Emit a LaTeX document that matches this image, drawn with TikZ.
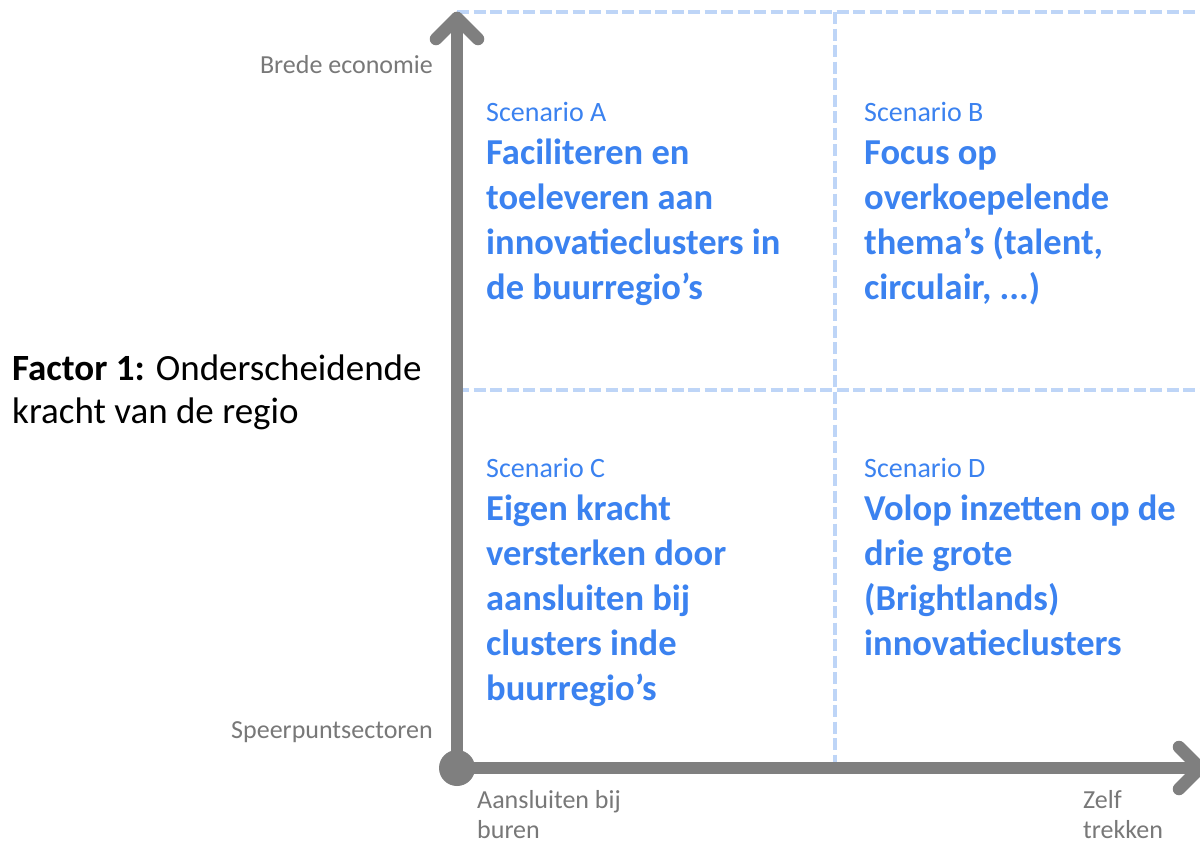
\documentclass[tikz,border=0pt]{standalone}
\usepackage{fontspec}
\setmainfont{Carlito}
\definecolor{axisgray}{RGB}{127,127,127}
\definecolor{labelgray}{RGB}{120,120,120}
\definecolor{scenblue}{RGB}{59,130,240}
\definecolor{dashblue}{RGB}{190,213,247}
\begin{document}
\begin{tikzpicture}[x=1pt,y=-1pt,
  axisline/.style={draw=axisgray,line width=12.5pt,line cap=round,line join=round},
  gridline/.style={draw=dashblue,line width=4pt,dash pattern=on 12pt off 4.5pt},
  axislabel/.style={inner sep=0pt,text=labelgray,align=left,font=\fontsize{26}{30}\selectfont},
  scenlabel/.style={inner sep=0pt,text=scenblue,anchor=base west,font=\fontsize{28}{34}\selectfont},
  scentitle/.style={inner sep=0pt,text=scenblue,anchor=base west,align=left,font=\fontsize{36.5}{45}\selectfont\bfseries},
  factorlabel/.style={inner sep=0pt,text=black,anchor=base west,align=left,font=\fontsize{37}{43}\selectfont}
]
\useasboundingbox[fill=white] (0,0) rectangle (1200,844);

% dashed grid
\coordinate (gtl) at (457,12);
\coordinate (gtr) at (1200,12);
\coordinate (gmt) at (835,12);
\coordinate (gmb) at (835,762);
\coordinate (gml) at (457,390);
\coordinate (gmr) at (1200,390);
\draw[gridline] (gtl) -- (gtr);
\draw[gridline] (gmt) -- (gmb);
\draw[gridline] (gml) -- (gmr);

% axes
\coordinate (origin) at (457,768);
\coordinate (ytip) at (457,18);
\coordinate (yl) at (436,39);
\coordinate (yr) at (478,39);
\coordinate (xtip) at (1200,768);
\coordinate (xu) at (1179,747);
\coordinate (xd) at (1179,789);
\draw[axisline] (origin) -- (ytip);
\draw[axisline] (yl) -- (ytip) -- (yr);
\draw[axisline] (origin) -- (xtip);
\draw[axisline] (xu) -- (xtip) -- (xd);
\fill[axisgray] (origin) circle (18pt);

% axis labels (multi-line nodes: base = last line's baseline)
\node[axislabel,anchor=base east] (brede) at (433,73) {Brede economie};
\node[axislabel,anchor=base east] (speer) at (433,738) {Speerpuntsectoren};
\node[axislabel,anchor=base west] (aansl) at (477,838) {Aansluiten bij\\buren};
\node[axislabel,anchor=base west] (zelf) at (1083,838) {Zelf\\trekken};

% factor label
\node[factorlabel] (factor) at (12,423) {\textbf{Factor 1:} Onderscheidende\\kracht van de regio};

% scenarios
\node[scenlabel] (sa) at (486,121) {Scenario A};
\node[scentitle] (ta) at (486,299) {Faciliteren en\\toeleveren aan\\innovatieclusters in\\de buurregio’s};
\node[scenlabel] (sb) at (864,121) {Scenario B};
\node[scentitle] (tb) at (864,299) {Focus op\\overkoepelende\\thema’s (talent,\\circulair, ...)};
\node[scenlabel] (sc) at (486,477) {Scenario C};
\node[scentitle] (tc) at (486,700) {Eigen kracht\\versterken door\\aansluiten bij\\clusters inde\\buurregio’s};
\node[scenlabel] (sd) at (864,477) {Scenario D};
\node[scentitle] (td) at (864,655) {Volop inzetten op de\\drie grote\\(Brightlands)\\innovatieclusters};
\end{tikzpicture}
\end{document}
